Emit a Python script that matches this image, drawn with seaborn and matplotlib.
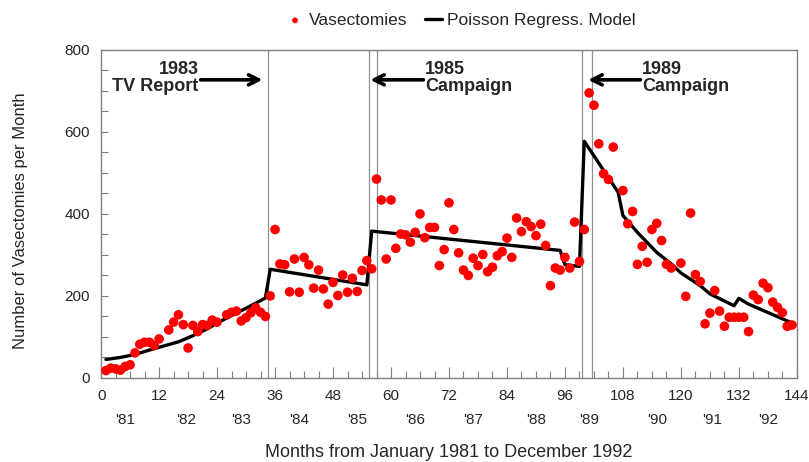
import matplotlib
matplotlib.use("Agg")
import numpy as np
import pandas as pd
import matplotlib.pyplot as plt
import matplotlib.transforms as mtrans
from matplotlib.ticker import MultipleLocator
import seaborn as sns

# ---- data ----
months = list(range(1, 144))
vasectomies = [
    18, 24, 22, 19, 28, 32, 61, 82, 87, 87, 79, 95, None, 117, 136, 154, 130, 73, 128, 113,
    130, 128, 141, 136, None, 154, 160, 163, 139, 147, 159, 171, 160, 150, 200, 362, 278, 276, 210, 290,
    209, 294, 276, 219, 263, 217, 180, 233, 201, 251, 209, 243, 211, 262, 286, 266, 485, 434, 290, 434,
    316, 351, 349, 331, 355, 400, 342, 367, 367, 274, 313, 427, 362, 305, 263, 250, 292, 274, 301, 259,
    270, 298, 308, 341, 294, 390, 357, 381, 369, 347, 375, 323, 225, 268, 263, 294, 268, 380, 284, 362,
    695, 665, 571, 498, 484, 563, None, 457, 376, 406, 277, 321, 282, 362, 377, 335, 277, 268, None, 280,
    199, 402, 252, 235, 132, 158, 213, 163, 126, 148, 148, 148, 148, 113, 202, 191, 231, 220, 185, 172,
    159, 126, 129,
]

model_months = [1, 4, 7, 10, 13, 16, 19, 22, 25, 28, 31, 34, 35, 55, 56, 95, 96, 99, 100,
                107, 108, 111, 115, 118, 120, 124, 126, 131, 132, 134, 143]
model_values = [45, 50, 57, 68, 78, 88, 103, 120, 140, 158, 176, 195, 265, 227, 358, 311, 276, 272, 577,
                453, 396, 355, 306, 278, 256, 225, 205, 176, 194, 180, 134]

event_lines = [34.6, 55.5, 57.0, 99.5, 101.6]

year_labels = ["'81", "'82", "'83", "'84", "'85", "'86", "'87", "'88", "'89", "'90", "'91", "'92"]
year_pos = [5, 17.5, 29, 41, 53, 65, 77, 90, 101, 115, 126.5, 138]

df = pd.DataFrame({"month": months, "count": vasectomies}).dropna()
model = pd.DataFrame({"month": model_months, "fit": model_values})

# ---- style ----
sns.set_theme(style="white")
plt.rcParams['font.family'] = ['Liberation Sans', 'DejaVu Sans']

fig = plt.figure(figsize=(8.09, 4.62), dpi=100)
ax = fig.add_axes([0.125, 0.182, 0.86, 0.71])

for xv in event_lines:
    ax.axvline(xv, color="#909090", lw=0.9, zorder=1)

sns.lineplot(data=model, x="month", y="fit", color="black", lw=2.4,
             estimator=None, sort=False, ax=ax, zorder=2, label="Poisson Regress. Model")
sns.scatterplot(data=df, x="month", y="count", color="#ff0000", s=48, edgecolor="none",
                ax=ax, zorder=3, label="Vasectomies")

ax.set_xlim(0, 144)
ax.set_ylim(0, 800)
ax.xaxis.set_major_locator(MultipleLocator(12))
ax.xaxis.set_minor_locator(MultipleLocator(3))
ax.yaxis.set_major_locator(MultipleLocator(200))
ax.yaxis.set_minor_locator(MultipleLocator(50))
ax.tick_params(axis="x", which="major", direction="in", length=8, width=0.8, color="#808080",
               labelsize=11, pad=8, bottom=True)
ax.tick_params(axis="x", which="minor", direction="in", length=5, width=0.8, color="#808080", bottom=True)
ax.tick_params(axis="y", which="major", direction="in", length=5, width=0.8, color="#808080",
               labelsize=11, pad=8, left=True)
ax.tick_params(axis="y", which="minor", direction="in", length=5, width=0.8, color="#808080", left=True)
for sp in ax.spines.values():
    sp.set_color("#808080")
    sp.set_linewidth(1.0)

trans = mtrans.blended_transform_factory(ax.transData, ax.transAxes)
for lab, xp in zip(year_labels, year_pos):
    ax.text(xp, -0.128, lab, transform=trans, ha="center", va="center", fontsize=11)

ax.set_xlabel("Months from January 1981 to December 1992", fontsize=13)
ax.xaxis.set_label_coords(0.5, -0.20)
ax.set_ylabel("Number of Vasectomies per Month", fontsize=12)
ax.yaxis.set_label_coords(-0.105, 0.48)

# event annotations
arrow_kw = dict(arrowstyle="->,head_length=0.6,head_width=0.3", lw=2.6, color="black",
                shrinkA=0, shrinkB=0)
ax.annotate("", xy=(33.4, 727), xytext=(20.6, 727), arrowprops=arrow_kw)
ax.annotate("", xy=(55.7, 727), xytext=(66.7, 727), arrowprops=arrow_kw)
ax.annotate("", xy=(100.8, 727), xytext=(111.6, 727), arrowprops=arrow_kw)
ax.text(20.2, 732, "1983\nTV Report", ha="right", va="center", fontsize=13,
        fontweight="bold", multialignment="right", linespacing=1.0)
ax.text(67.1, 732, "1985\nCampaign", ha="left", va="center", fontsize=13,
        fontweight="bold", linespacing=1.0)
ax.text(112.0, 732, "1989\nCampaign", ha="left", va="center", fontsize=13,
        fontweight="bold", linespacing=1.0)

handles, labels = ax.get_legend_handles_labels()
order = [labels.index("Vasectomies"), labels.index("Poisson Regress. Model")]
ax.legend([handles[i] for i in order], [labels[i] for i in order],
          loc="center", bbox_to_anchor=(0.57, 0.956), bbox_transform=fig.transFigure,
          ncol=2, frameon=False, fontsize=12.5, handlelength=1.0, handletextpad=0.3,
          columnspacing=1.0, markerscale=0.6)

fig.savefig("out.png", dpi=100)
